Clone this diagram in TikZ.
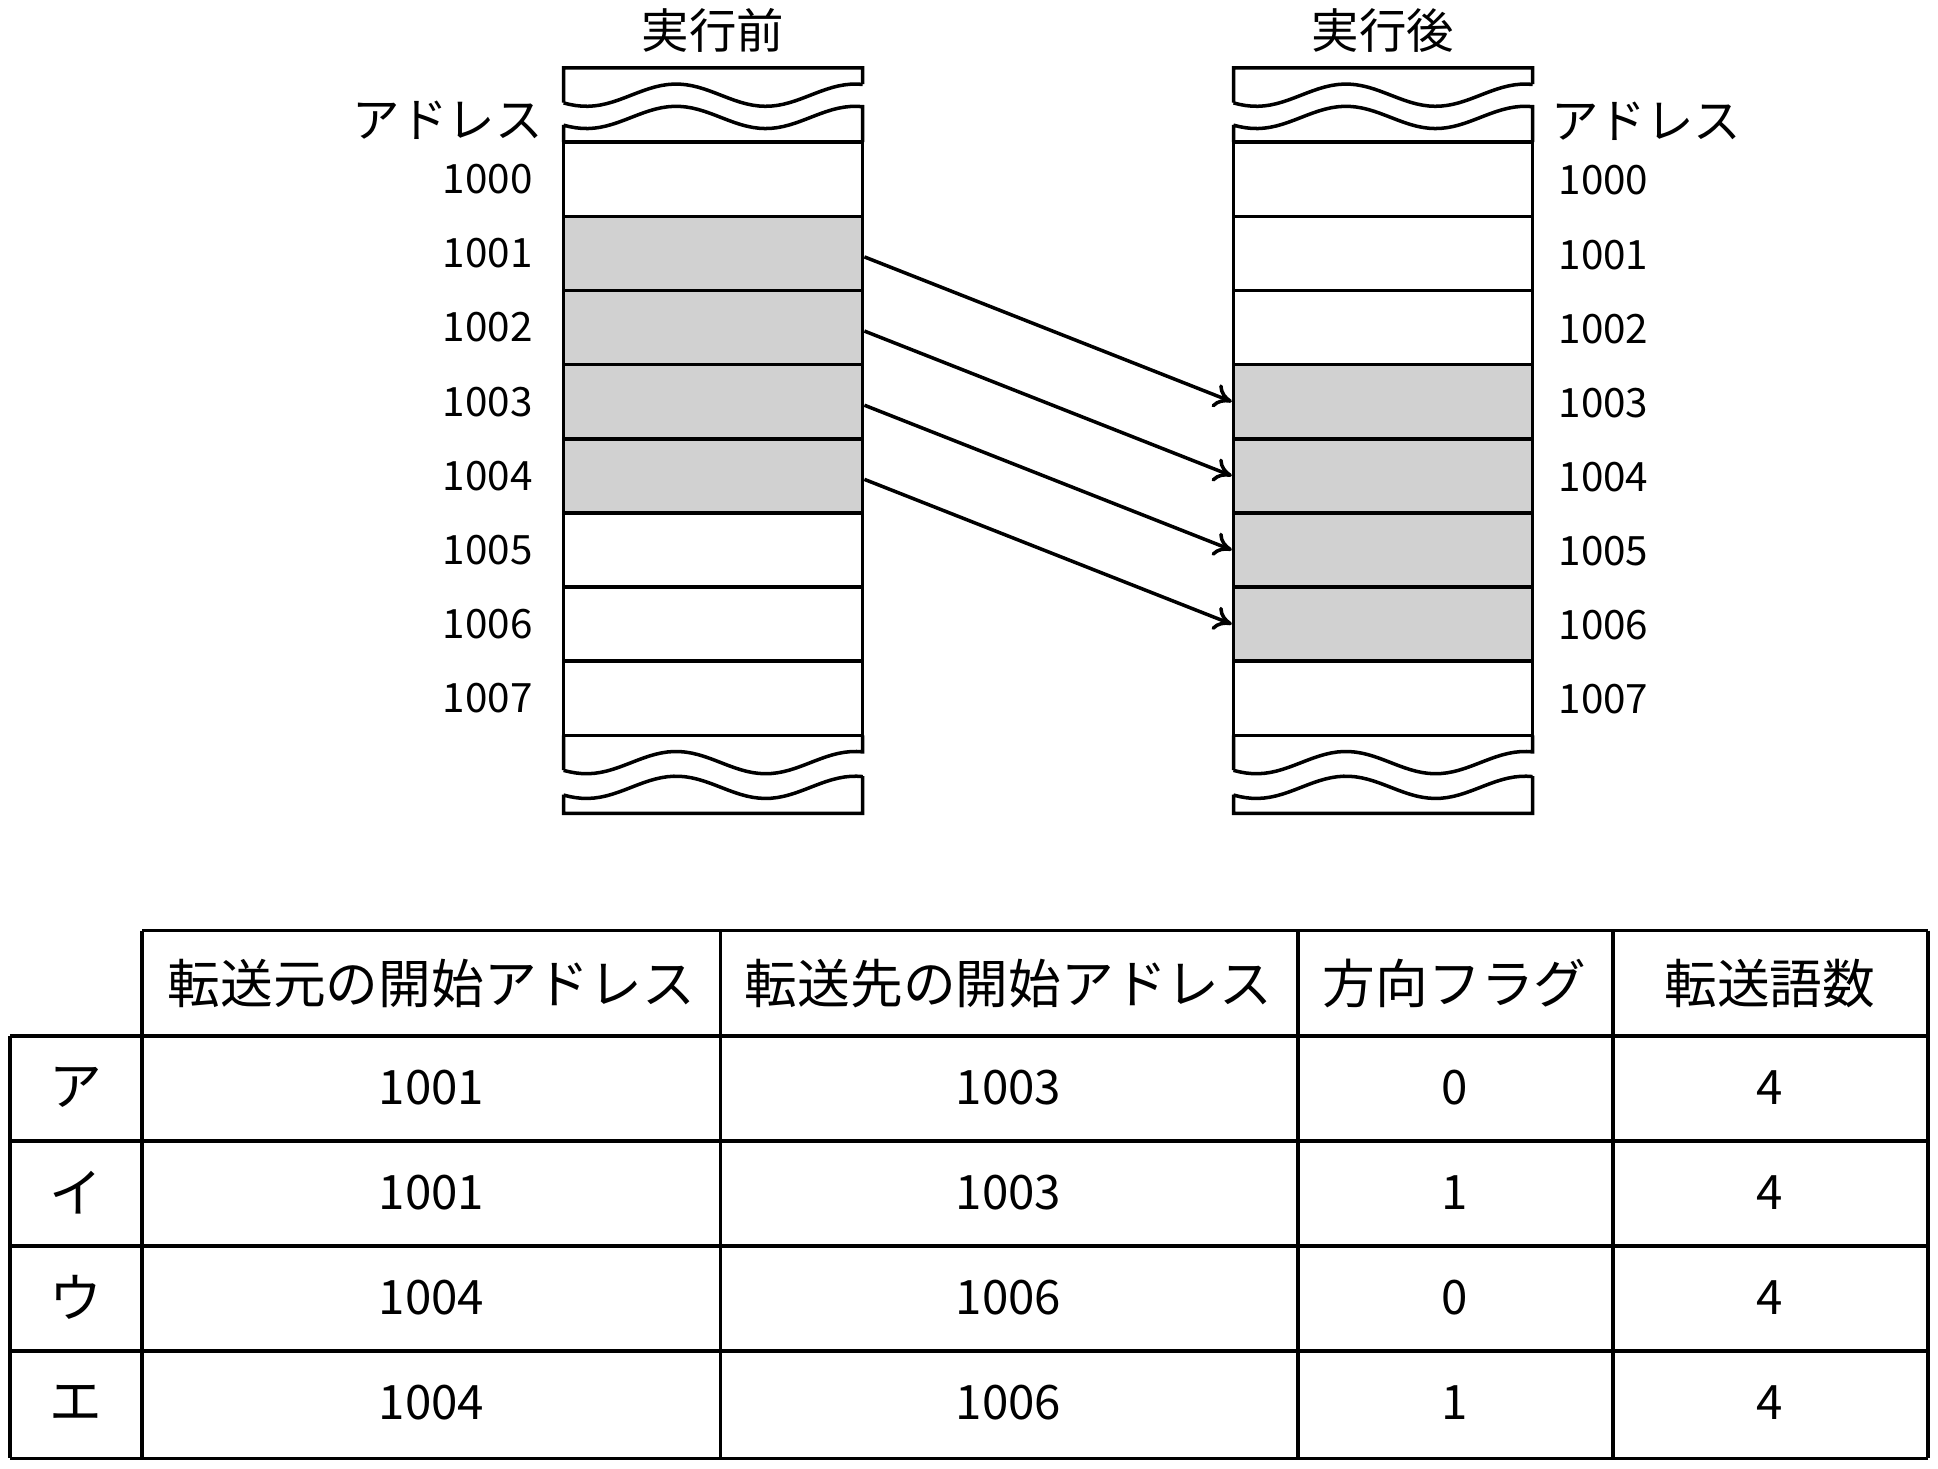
\documentclass[tikz,border=0pt]{standalone}
\usepackage{fontspec}
\setmainfont{Noto Sans CJK JP}
\usetikzlibrary{arrows.meta}
\newcommand{\wavy}[2]{plot[domain=0:242,samples=50] ({#1+\x},{#2-9*cos((\x-91)*2.4828)})}
\begin{document}
\begin{tikzpicture}[x=0.02472cm,y=-0.02472cm,
cell/.style={draw,line width=2pt,minimum width=5.98cm,minimum height=1.483cm,inner sep=0pt},
used/.style={cell,fill=black!18},
addr/.style={font=\fontsize{23}{23}\selectfont},
lbl/.style={font=\fontsize{27}{27}\selectfont},
hdr/.style={font=\fontsize{30}{30}\selectfont},
val/.style={font=\fontsize{27}{27}\selectfont},
edge/.style={line width=2pt},
]
\useasboundingbox (0,0) rectangle (1568,1188);
% memory before and after
\foreach \bx/\nm in {577/L,1119/R}{
  \foreach \i in {0,...,7}{
    \node[cell] (\nm\i) at (\bx,{145+60*\i}) {};
  }
  \begin{scope}[edge]
  \draw ({\bx+121},68) -- ({\bx+121},55) -- ({\bx-121},55) -- ({\bx-121},83) \wavy{\bx-121}{77};
  \draw ({\bx-121},115) -- ({\bx-121},101) \wavy{\bx-121}{95} -- ({\bx+121},115);
  \draw ({\bx-121},595) -- ({\bx-121},623) \wavy{\bx-121}{617} -- ({\bx+121},595);
  \draw ({\bx+121},658) -- ({\bx+121},628) -- ({\bx+121},658) -- ({\bx-121},658) -- ({\bx-121},643) \wavy{\bx-121}{637};
  \end{scope}
}
\foreach \i in {1,...,4}{\node[used] at (L\i) {};}
\foreach \i in {3,...,6}{\node[used] at (R\i) {};}
\node[lbl] (before) at (577,25) {実行前};
\node[lbl] (after) at (1119,25) {実行後};
\node[lbl,anchor=east] (la) at (444,97) {アドレス};
\node[lbl,anchor=west] (ra) at (1250,98) {アドレス};
\foreach \i in {0,...,7}{
  \node[addr,anchor=east] (ln\i) at (436,{145+60*\i}) {100\i};
  \node[addr,anchor=west] (rn\i) at (1256,{146+60*\i}) {100\i};
}
\foreach \a/\b in {1/3,2/4,3/5,4/6}{
  \draw[edge,-{To[length=10pt,width=14pt]}] ([yshift=-2pt]L\a.east) -- (R\b.west);
}
% table
\begin{scope}[edge]
\draw (115,753) -- (1560,753);
\foreach \y in {838,923,1008,1093,1180}{\draw (8,\y) -- (1560,\y);}
\draw (8,838) -- (8,1180);
\foreach \x in {115,583,1050,1305,1560}{\draw (\x,753) -- (\x,1180);}
\end{scope}
\node[hdr] (h1) at (349,796) {転送元の開始アドレス};
\node[hdr] (h2) at (816,796) {転送先の開始アドレス};
\node[hdr] (h3) at (1177,796) {方向フラグ};
\node[hdr] (h4) at (1432,796) {転送語数};
\foreach \k/\src/\dst/\dir [count=\r from 0] in {ア/1001/1003/0,イ/1001/1003/1,ウ/1004/1006/0,エ/1004/1006/1}{
  \node[hdr] (k\r) at (61,{880+85*\r}) {\k};
  \node[val] (s\r) at (349,{880+85*\r}) {\src};
  \node[val] (d\r) at (816,{880+85*\r}) {\dst};
  \node[val] (f\r) at (1177,{880+85*\r}) {\dir};
  \node[val] (n\r) at (1432,{880+85*\r}) {4};
}
\end{tikzpicture}
\end{document}
